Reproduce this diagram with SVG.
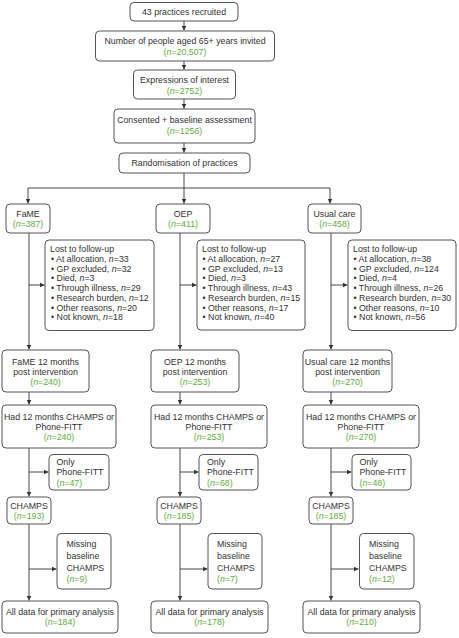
<svg xmlns="http://www.w3.org/2000/svg" width="459" height="638" viewBox="0 0 459 638">
<defs>
<marker id="ah" markerWidth="6" markerHeight="6" refX="5" refY="3" orient="auto" markerUnits="userSpaceOnUse">
<path d="M0,0.5 L5,3 L0,5.5 Z" fill="#333"/>
</marker>
<style>
.b{fill:#fff;stroke:#555;stroke-width:1}
text{font-family:"Liberation Sans",Arial,sans-serif;font-size:8.8px;fill:#333}
.c{text-anchor:middle}
.g{fill:#5fae40}
.i{font-style:italic}
.ln{fill:none;stroke:#333;stroke-width:0.9}
</style>
</defs>
<rect width="459" height="638" fill="#fff"/>

<g id="connectors">
<path class="ln" d="M184,21 V30.5" marker-end="url(#ah)"/>
<path class="ln" d="M184,61 V69.5" marker-end="url(#ah)"/>
<path class="ln" d="M184,99 V108.5" marker-end="url(#ah)"/>
<path class="ln" d="M184,143 V152.5" marker-end="url(#ah)"/>
<path class="ln" d="M184,173 V188"/>
<path class="ln" d="M28,188 H330"/>
<path class="ln" d="M28,188 V203.5" marker-end="url(#ah)"/>
<path class="ln" d="M184,188 V203.5" marker-end="url(#ah)"/>
<path class="ln" d="M330,188 V203.5" marker-end="url(#ah)"/>
<!-- FaME column -->
<path class="ln" d="M29,233 V349.5" marker-end="url(#ah)"/>
<path class="ln" d="M29,285 H44.5" marker-end="url(#ah)"/>
<path class="ln" d="M29,392 V404.5" marker-end="url(#ah)"/>
<path class="ln" d="M29,448 V496.5" marker-end="url(#ah)"/>
<path class="ln" d="M29,472 H48.5" marker-end="url(#ah)"/>
<path class="ln" d="M29,524 V600.5" marker-end="url(#ah)"/>
<path class="ln" d="M29,569 H56.5" marker-end="url(#ah)"/>
<!-- OEP column -->
<path class="ln" d="M180,233 V349.5" marker-end="url(#ah)"/>
<path class="ln" d="M180,285 H196.5" marker-end="url(#ah)"/>
<path class="ln" d="M180,392 V404.5" marker-end="url(#ah)"/>
<path class="ln" d="M180,448 V496.5" marker-end="url(#ah)"/>
<path class="ln" d="M180,472 H198.5" marker-end="url(#ah)"/>
<path class="ln" d="M180,524 V600.5" marker-end="url(#ah)"/>
<path class="ln" d="M180,569 H207.5" marker-end="url(#ah)"/>
<!-- Usual care column -->
<path class="ln" d="M331,233 V349.5" marker-end="url(#ah)"/>
<path class="ln" d="M331,285 H347.5" marker-end="url(#ah)"/>
<path class="ln" d="M331,392 V404.5" marker-end="url(#ah)"/>
<path class="ln" d="M331,448 V496.5" marker-end="url(#ah)"/>
<path class="ln" d="M331,472 H351.5" marker-end="url(#ah)"/>
<path class="ln" d="M331,524 V600.5" marker-end="url(#ah)"/>
<path class="ln" d="M331,569 H358.5" marker-end="url(#ah)"/>
</g>

<g id="recruited">
<rect class="b" x="130" y="2.5" width="108" height="18.5" rx="4"/>
<text class="c" x="184" y="14.5">43 practices recruited</text>
</g>
<g id="invited">
<rect class="b" x="95.5" y="31" width="179" height="30" rx="4"/>
<text class="c" x="185" y="43.8">Number of people aged 65+ years invited</text>
<text class="c g" x="185" y="54.8">(<tspan class="i">n</tspan>=20,507)</text>
</g>
<g id="interest">
<rect class="b" x="133.5" y="70" width="102" height="29" rx="4"/>
<text class="c" x="184.5" y="83">Expressions of interest</text>
<text class="c g" x="184.5" y="93.5">(<tspan class="i">n</tspan>=2752)</text>
</g>
<g id="consented">
<rect class="b" x="114" y="109" width="141" height="34" rx="4"/>
<text class="c" x="184.5" y="123">Consented + baseline assessment</text>
<text class="c g" x="184.5" y="133.8">(<tspan class="i">n</tspan>=1256)</text>
</g>
<g id="randomisation">
<rect class="b" x="119" y="153" width="131" height="20" rx="4"/>
<text class="c" x="184.5" y="165.5">Randomisation of practices</text>
</g>

<!-- Arm boxes -->
<g id="fame">
<rect class="b" x="6" y="204" width="44" height="29" rx="4"/>
<text class="c" x="28" y="216.5">FaME</text>
<text class="c g" x="28" y="226.8">(<tspan class="i">n</tspan>=387)</text>
</g>
<g id="oep">
<rect class="b" x="156" y="204" width="54" height="29" rx="4"/>
<text class="c" x="183" y="216.5">OEP</text>
<text class="c g" x="183" y="226.8">(<tspan class="i">n</tspan>=411)</text>
</g>
<g id="usual">
<rect class="b" x="308" y="204" width="53" height="29" rx="4"/>
<text class="c" x="334.5" y="216.5">Usual care</text>
<text class="c g" x="334.5" y="226.8">(<tspan class="i">n</tspan>=458)</text>
</g>

<!-- Lost to follow-up -->
<g id="fame-lost">
<rect class="b" x="45" y="240" width="109" height="90.5" rx="4"/>
<text x="50" y="252.3">Lost to follow-up</text>
<text x="51" y="262">• At allocation, <tspan class="i">n</tspan>=33</text>
<text x="51" y="271.7">• GP excluded, <tspan class="i">n</tspan>=32</text>
<text x="51" y="281.4">• Died, <tspan class="i">n</tspan>=3</text>
<text x="51" y="291.1">• Through illness, <tspan class="i">n</tspan>=29</text>
<text x="51" y="300.9">• Research burden, <tspan class="i">n</tspan>=12</text>
<text x="51" y="310.6">• Other reasons, <tspan class="i">n</tspan>=20</text>
<text x="51" y="320.3">• Not known, <tspan class="i">n</tspan>=18</text>
</g>
<g id="oep-lost">
<rect class="b" x="197" y="240" width="108" height="90" rx="4"/>
<text x="202" y="252.3">Lost to follow-up</text>
<text x="202.5" y="262">• At allocation, <tspan class="i">n</tspan>=27</text>
<text x="202.5" y="271.7">• GP excluded, <tspan class="i">n</tspan>=13</text>
<text x="202.5" y="281.4">• Died, <tspan class="i">n</tspan>=3</text>
<text x="202.5" y="291.1">• Through illness, <tspan class="i">n</tspan>=43</text>
<text x="202.5" y="300.9">• Research burden, <tspan class="i">n</tspan>=15</text>
<text x="202.5" y="310.6">• Other reasons, <tspan class="i">n</tspan>=17</text>
<text x="202.5" y="320.3">• Not known, <tspan class="i">n</tspan>=40</text>
</g>
<g id="usual-lost">
<rect class="b" x="348" y="240" width="108" height="90.5" rx="4"/>
<text x="353" y="252.3">Lost to follow-up</text>
<text x="353.5" y="262">• At allocation, <tspan class="i">n</tspan>=38</text>
<text x="353.5" y="271.7">• GP excluded, <tspan class="i">n</tspan>=124</text>
<text x="353.5" y="281.4">• Died, <tspan class="i">n</tspan>=4</text>
<text x="353.5" y="291.1">• Through illness, <tspan class="i">n</tspan>=26</text>
<text x="353.5" y="300.9">• Research burden, <tspan class="i">n</tspan>=30</text>
<text x="353.5" y="310.6">• Other reasons, <tspan class="i">n</tspan>=10</text>
<text x="353.5" y="320.3">• Not known, <tspan class="i">n</tspan>=56</text>
</g>

<!-- 12 months -->
<g id="fame-12m">
<rect class="b" x="2" y="350" width="87" height="42" rx="4"/>
<text class="c" x="45.5" y="364.7">FaME 12 months</text>
<text class="c" x="45.5" y="374.7">post intervention</text>
<text class="c g" x="45.5" y="384.7">(<tspan class="i">n</tspan>=240)</text>
</g>
<g id="oep-12m">
<rect class="b" x="151" y="350" width="88" height="42" rx="4"/>
<text class="c" x="195" y="364.7">OEP 12 months</text>
<text class="c" x="195" y="374.7">post intervention</text>
<text class="c g" x="195" y="384.7">(<tspan class="i">n</tspan>=253)</text>
</g>
<g id="usual-12m">
<rect class="b" x="303" y="350" width="89" height="42" rx="4"/>
<text class="c" x="347.5" y="364.7">Usual care 12 months</text>
<text class="c" x="347.5" y="374.7">post intervention</text>
<text class="c g" x="347.5" y="384.7">(<tspan class="i">n</tspan>=270)</text>
</g>

<!-- Had CHAMPS or Phone-FITT -->
<g id="fame-had">
<rect class="b" x="2" y="405" width="114" height="43" rx="4"/>
<text class="c" x="59" y="420.3">Had 12 months CHAMPS or</text>
<text class="c" x="59" y="430.3">Phone-FITT</text>
<text class="c g" x="59" y="440.3">(<tspan class="i">n</tspan>=240)</text>
</g>
<g id="oep-had">
<rect class="b" x="151" y="405" width="116" height="43" rx="4"/>
<text class="c" x="209" y="420.3">Had 12 months CHAMPS or</text>
<text class="c" x="209" y="430.3">Phone-FITT</text>
<text class="c g" x="209" y="440.3">(<tspan class="i">n</tspan>=253)</text>
</g>
<g id="usual-had">
<rect class="b" x="303" y="405" width="116" height="43" rx="4"/>
<text class="c" x="361" y="420.3">Had 12 months CHAMPS or</text>
<text class="c" x="361" y="430.3">Phone-FITT</text>
<text class="c g" x="361" y="440.3">(<tspan class="i">n</tspan>=270)</text>
</g>

<!-- Only Phone-FITT -->
<g id="fame-only">
<rect class="b" x="49" y="454.5" width="60" height="35.5" rx="4"/>
<text x="56.5" y="465.3">Only</text>
<text x="56.5" y="475.3">Phone-FITT</text>
<text class="g" x="56.5" y="485.5">(<tspan class="i">n</tspan>=47)</text>
</g>
<g id="oep-only">
<rect class="b" x="199" y="454.5" width="59" height="35.5" rx="4"/>
<text x="207" y="465.3">Only</text>
<text x="207" y="475.3">Phone-FITT</text>
<text class="g" x="207" y="485.5">(<tspan class="i">n</tspan>=68)</text>
</g>
<g id="usual-only">
<rect class="b" x="352" y="454.5" width="59" height="35.5" rx="4"/>
<text x="359.5" y="465.3">Only</text>
<text x="359.5" y="475.3">Phone-FITT</text>
<text class="g" x="359.5" y="485.5">(<tspan class="i">n</tspan>=48)</text>
</g>

<!-- CHAMPS -->
<g id="fame-champs">
<rect class="b" x="7" y="497" width="44" height="27" rx="4"/>
<text class="c" x="29" y="509">CHAMPS</text>
<text class="c g" x="29" y="519.2">(<tspan class="i">n</tspan>=193)</text>
</g>
<g id="oep-champs">
<rect class="b" x="157" y="497" width="44" height="27" rx="4"/>
<text class="c" x="179" y="509">CHAMPS</text>
<text class="c g" x="179" y="519.2">(<tspan class="i">n</tspan>=185)</text>
</g>
<g id="usual-champs">
<rect class="b" x="309" y="497" width="44" height="27" rx="4"/>
<text class="c" x="331" y="509">CHAMPS</text>
<text class="c g" x="331" y="519.2">(<tspan class="i">n</tspan>=185)</text>
</g>

<!-- Missing baseline CHAMPS -->
<g id="fame-missing">
<rect class="b" x="57" y="533.5" width="54" height="55.5" rx="4"/>
<text x="66.5" y="547.3">Missing</text>
<text x="66.5" y="559">baseline</text>
<text x="66.5" y="570.5">CHAMPS</text>
<text class="g" x="66.5" y="582">(<tspan class="i">n</tspan>=9)</text>
</g>
<g id="oep-missing">
<rect class="b" x="208" y="533.5" width="54" height="55.5" rx="4"/>
<text x="217" y="547.3">Missing</text>
<text x="217" y="559">baseline</text>
<text x="217" y="570.5">CHAMPS</text>
<text class="g" x="217" y="582">(<tspan class="i">n</tspan>=7)</text>
</g>
<g id="usual-missing">
<rect class="b" x="359.5" y="533.5" width="54.5" height="55.5" rx="4"/>
<text x="369" y="547.3">Missing</text>
<text x="369" y="559">baseline</text>
<text x="369" y="570.5">CHAMPS</text>
<text class="g" x="369" y="582">(<tspan class="i">n</tspan>=12)</text>
</g>

<!-- All data for primary analysis -->
<g id="fame-all">
<rect class="b" x="2" y="601" width="116" height="32" rx="4"/>
<text class="c" x="60" y="614.7">All data for primary analysis</text>
<text class="c g" x="60" y="624.9">(<tspan class="i">n</tspan>=184)</text>
</g>
<g id="oep-all">
<rect class="b" x="151" y="601" width="117" height="32" rx="4"/>
<text class="c" x="209.5" y="614.7">All data for primary analysis</text>
<text class="c g" x="209.5" y="624.9">(<tspan class="i">n</tspan>=178)</text>
</g>
<g id="usual-all">
<rect class="b" x="303" y="601" width="117" height="32" rx="4"/>
<text class="c" x="361.5" y="614.7">All data for primary analysis</text>
<text class="c g" x="361.5" y="624.9">(<tspan class="i">n</tspan>=210)</text>
</g>
</svg>
